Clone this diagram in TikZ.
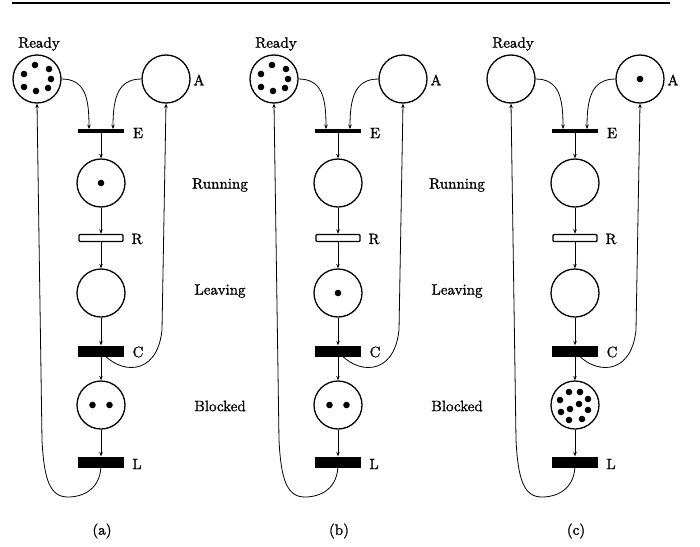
\documentclass[tikz,border=0pt]{standalone}
\usepackage{fontspec}
\newfontface\lblfont{lmroman10-regular.otf}[FakeBold=1.2]
\usetikzlibrary{arrows.meta}
\begin{document}
\begin{tikzpicture}[x=1pt,y=-1pt,
  place/.style={circle, draw, line width=1.3pt, minimum size=48pt, inner sep=0pt},
  thinbar/.style={rectangle, fill, inner sep=0pt, minimum width=46pt, minimum height=3.5pt},
  hollowbar/.style={rectangle, draw, line width=1.4pt, inner sep=0pt, minimum width=44pt, minimum height=7pt, rounded corners=1pt},
  fullbar/.style={rectangle, fill, inner sep=0pt, minimum width=46pt, minimum height=11pt},
  arc/.style={line width=0.8pt, -{Stealth[length=4.5pt,width=3.5pt]}},
  lbl/.style={font=\lblfont\fontsize{15}{17}\selectfont, inner sep=0pt}]
\useasboundingbox (0,0) rectangle (700,546);
\draw[line width=2pt] (12,3) -- (670,3);
\newcommand\petripanel[3]{%
\begin{scope}[xshift=#1pt]
\node[place] (#2Rd) at (37,79) {};
\node[place] (#2A) at (166,79) {};
\node[thinbar] (#2E) at (101,131) {};
\node[place] (#2Run) at (101,183) {};
\node[hollowbar] (#2R) at (101,238) {};
\node[place] (#2Lv) at (101,293) {};
\node[fullbar] (#2C) at (101,351) {};
\node[place] (#2Bl) at (101,405) {};
\node[fullbar] (#2L) at (101,462) {};
\node[lbl] (#2tRd) at (39,44) {Ready};
\node[lbl] (#2tA) at (199,80) {A};
\node[lbl] (#2tE) at (138,133) {E};
\node[lbl] (#2tR) at (137,239) {R};
\node[lbl] (#2tC) at (138,352) {C};
\node[lbl] (#2tL) at (137,464) {L};
\node[lbl] (#2cap) at (102,531) {#3};
\draw[arc] (#2Rd.east) .. controls +(24,0) and +(0,-30) .. ([xshift=-12pt]#2E.north);
\draw[arc] (#2A.west) .. controls +(-24,0) and +(0,-30) .. ([xshift=12pt]#2E.north);
\draw[arc] (#2E) -- (#2Run);
\draw[arc] (#2Run) -- (#2R);
\draw[arc] (#2R) -- (#2Lv);
\draw[arc] (#2Lv) -- (#2C);
\draw[arc] (#2C) -- (#2Bl);
\draw[arc] (#2Bl) -- (#2L);
\draw[arc] (#2C.center) .. controls (118,374) and (157,378) .. (162,330) -- (#2A.south);
\draw[arc] (#2L.center) .. controls (102,490) and (82,497) .. (68,497) .. controls (50,497) and (44,480) .. (42,440) -- (#2Rd.south);
\end{scope}}
\petripanel{0}{a}{(a)}
\petripanel{237}{b}{(b)}
\petripanel{474}{c}{(c)}
% side labels
\node[lbl] (tRun1) at (220,185) {Running};
\node[lbl] (tLv1) at (220,291) {Leaving};
\node[lbl] (tBl1) at (220,406) {Blocked};
\node[lbl] (tRun2) at (457,185) {Running};
\node[lbl] (tLv2) at (457,291) {Leaving};
\node[lbl] (tBl2) at (457,406) {Blocked};
% tokens
\foreach \p in {aRd,bRd}{
  \foreach \dx/\dy in {-2/-14, 12/-10, 14/0, 11/9, -1/12, -13/8, -13/-5}
    \fill ([shift={(\dx,\dy)}]\p.center) circle (3.3pt);
}
\fill (aRun.center) circle (3.3pt);
\fill (bLv.center) circle (3.3pt);
\fill (cA.center) circle (3.3pt);
\foreach \p in {aBl,bBl}{
  \foreach \dx in {-8.5,8.5}
    \fill ([shift={(\dx,0)}]\p.center) circle (3.3pt);
}
\foreach \dx/\dy in {-6/-13, 5/-13, -15/-5, 13/-6, 4/-1, -14/7, -5/4, 13/5, -6/15, 7/14}
  \fill ([shift={(\dx,\dy)}]cBl.center) circle (3.3pt);
\end{tikzpicture}
\end{document}
